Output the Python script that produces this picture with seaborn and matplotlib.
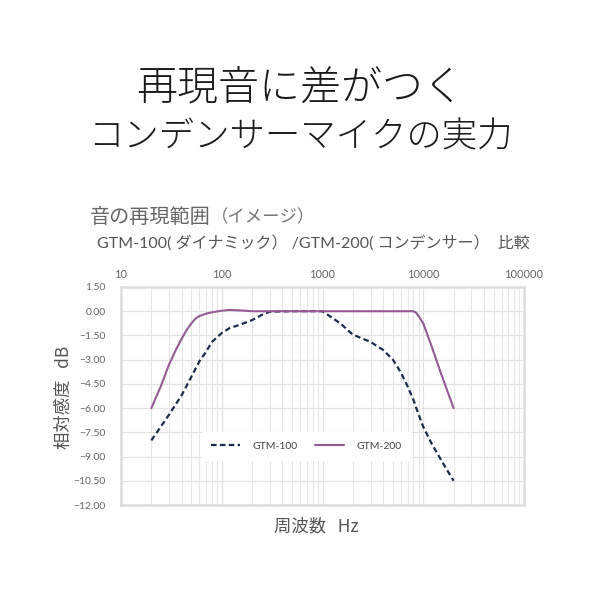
import matplotlib
matplotlib.use("Agg")
import matplotlib.pyplot as plt
import seaborn as sns
import pandas as pd
import numpy as np
from matplotlib.ticker import FixedLocator, NullFormatter

title_line1 = "再現音に差がつく"
title_line2 = "コンデンサーマイクの実力"
subtitle_main = "音の再現範囲"
subtitle_paren = "（イメージ）"
subtitle2 = "GTM-100( ダイナミック） /GTM-200( コンデンサー）  比較"
xlabel = "周波数   Hz"
ylabel = "相対感度   dB"

freq_100 = [20, 30, 40, 50, 60, 70, 80, 100, 120, 150, 200, 250, 300, 500, 1000,
            1500, 2000, 3000, 4000, 5000, 6000, 7000, 8000, 9000, 10000, 12000, 15000, 20000]
gtm_100 = [-8.0, -6.4, -5.2, -4.05, -3.1, -2.5, -1.9, -1.35, -1.04, -0.85, -0.55, -0.23, -0.03, 0.0, 0.0,
           -0.75, -1.45, -1.9, -2.4, -3.0, -3.8, -4.65, -5.5, -6.4, -7.15, -8.15, -9.2, -10.5]

freq_200 = [20, 25, 30, 35, 40, 45, 50, 55, 60, 70, 80, 100, 120, 150, 200, 500, 1000, 2000, 5000,
            8000, 8500, 9000, 10000, 12000, 15000, 20000]
gtm_200 = [-6.0, -4.6, -3.3, -2.4, -1.7, -1.15, -0.75, -0.45, -0.3, -0.15, -0.07, 0.03, 0.08, 0.05, 0.0,
           0.0, 0.0, 0.0, 0.0, 0.0, -0.1, -0.3, -0.75, -2.1, -3.85, -6.0]

x_ticks = [10, 100, 1000, 10000, 100000]
x_tick_labels = ["10", "100", "1000", "10000", "100000"]
y_ticks = [1.5, 0.0, -1.5, -3.0, -4.5, -6.0, -7.5, -9.0, -10.5, -12.0]

series_names = ["GTM-100", "GTM-200"]

df = pd.concat([
    pd.DataFrame({"freq": freq_100, "db": gtm_100, "model": series_names[0]}),
    pd.DataFrame({"freq": freq_200, "db": gtm_200, "model": series_names[1]}),
])

sns.set_theme(style="white")
plt.rcParams['font.family'] = ['Noto Sans CJK JP', 'DejaVu Sans']
latin = ['Lato', 'Noto Sans CJK JP', 'DejaVu Sans']

fig = plt.figure(figsize=(6, 6), dpi=100)
ax = fig.add_axes([0.2017, 0.1583, 0.6716, 0.3634])

palette = {"GTM-100": "#1e2a4a", "GTM-200": "#935a93"}
sns.lineplot(data=df[df.model == "GTM-100"], x="freq", y="db", color=palette["GTM-100"],
             ax=ax, linestyle=(0, (2.5, 1.5)), linewidth=1.6, label="GTM-100")
sns.lineplot(data=df[df.model == "GTM-200"], x="freq", y="db", color=palette["GTM-200"],
             ax=ax, linewidth=1.5, label="GTM-200")

ax.set_xscale("log")
ax.set_xlim(10, 100000)
ax.set_ylim(-12, 1.5)

ax.xaxis.set_major_locator(FixedLocator(x_ticks))
ax.set_xticklabels(x_tick_labels, family=latin)
minor = [m * 10 ** e for e in range(1, 5) for m in range(2, 10)]
ax.xaxis.set_minor_locator(FixedLocator(minor))
ax.xaxis.set_minor_formatter(NullFormatter())
ax.set_yticks(y_ticks)
ax.set_yticklabels([f"{v:.2f}".replace("-", "−") for v in y_ticks], family=latin)

ax.xaxis.tick_top()
ax.tick_params(axis="x", which="both", length=0, pad=5, labelsize=8, labelcolor="#666666", top=False)
ax.tick_params(axis="y", length=0, pad=11, labelsize=7.5, labelcolor="#666666")

ax.grid(True, which="major", color="#e2e2e2", linewidth=0.9)
ax.grid(True, which="minor", axis="x", color="#e6e6e6", linewidth=0.8)
ax.set_axisbelow(True)
for s in ax.spines.values():
    s.set_color("#dddddd")
    s.set_linewidth(1.8)

ax.set_xlabel("")
ax.set_ylabel("")
fig.text(0.527, 0.122, xlabel, ha="center", va="center", fontsize=12.5, color="#555555")
fig.text(0.107, 0.337, ylabel, ha="center", va="center", fontsize=12.5, color="#555555", rotation=90)

leg = ax.legend(loc="center", bbox_to_anchor=(0.46, 0.27), ncol=2, frameon=True,
                prop={'family': latin, 'size': 7.5}, handlelength=2.8, columnspacing=1.6,
                borderpad=0.9, handletextpad=1.2)
leg.get_frame().set_facecolor("white")
leg.get_frame().set_edgecolor("white")
leg.get_frame().set_alpha(1.0)
for t in leg.get_texts():
    t.set_color("#444444")

fig.text(0.5, 0.853, title_line1, ha="center", va="center", fontsize=29.5, color="#1a1a1a",
         fontweight="light")
fig.text(0.5, 0.772, title_line2, ha="center", va="center", fontsize=25.5, color="#1a1a1a",
         fontweight="light")
fig.text(0.150, 0.637, subtitle_main, ha="left", va="center", fontsize=14.5, color="#666666")
fig.text(0.352, 0.637, subtitle_paren, ha="left", va="center", fontsize=12.5, color="#777777")
fig.text(0.162, 0.595, subtitle2, ha="left", va="center", fontsize=11.5, color="#555555",
         family=latin)

fig.savefig("out.png", dpi=100, facecolor="white")
